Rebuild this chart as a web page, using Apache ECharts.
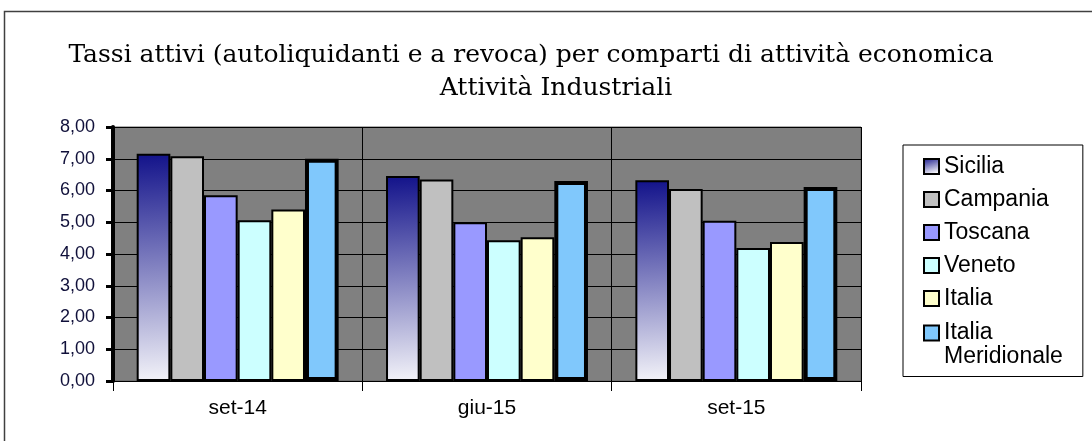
<!DOCTYPE html>
<html>
<head>
    <meta charset="utf-8">
    <title>Tassi attivi</title>
    <script src="https://cdn.jsdelivr.net/npm/echarts@6/dist/echarts.min.js"></script>
    <style>
        html, body { margin: 0; padding: 0; background: #fff; }
    </style>
</head>
<body>
    <div id="main" style="width: 1092px;height:441px;"></div>
    <script type="text/javascript">
        // dati
        var periodi = ['set-14', 'giu-15', 'set-15'];
        var sicilia = [7.16, 6.46, 6.32];
        var campania = [7.08, 6.35, 6.05];
        var toscana = [5.85, 5.00, 5.05];
        var veneto = [5.06, 4.43, 4.19];
        var italia = [5.40, 4.53, 4.38];
        var italiaMeridionale = [7.00, 6.30, 6.11];
        var yTicks = [0, 1, 2, 3, 4, 5, 6, 7, 8];

        var myChart = echarts.init(document.getElementById('main'));

        function barSeries(name, data, color, bw) {
            return {
                name: name,
                type: 'bar',
                data: data,
                barGap: '0%',
                barCategoryGap: '19%',
                itemStyle: {
                    color: color,
                    borderColor: '#000',
                    borderWidth: bw
                }
            };
        }

        var siciliaColor = new echarts.graphic.LinearGradient(0, 0, 0.3, 1, [
            { offset: 0, color: '#12128a' },
            { offset: 1, color: '#f2f2f8' }
        ]);

        var titleFont = {
            fontFamily: 'DejaVu Serif',
            fontWeight: 'normal',
            fontSize: 25,
            color: '#000'
        };
        var legendFont = {
            fontFamily: 'Liberation Sans',
            fontSize: 23,
            lineHeight: 24,
            color: '#000'
        };

        var option = {
            animation: false,
            title: [{
                text: 'Tassi attivi (autoliquidanti e a revoca) per comparti di attività economica',
                left: 526,
                top: 38,
                textAlign: 'center',
                textStyle: titleFont
            }, {
                text: 'Attività Industriali',
                left: 551,
                top: 71,
                textAlign: 'center',
                textStyle: titleFont
            }],
            legend: [{
                // riquadro della legenda con le prime cinque voci
                data: ['Sicilia', 'Campania', 'Toscana', 'Veneto', 'Italia'],
                orient: 'vertical',
                left: 903,
                top: 145,
                padding: [9.5, 34, 66, 20],
                itemGap: 9,
                itemWidth: 15,
                itemHeight: 15,
                borderColor: '#000',
                borderWidth: 1,
                icon: 'rect',
                textStyle: legendFont
            }, {
                // ultima voce su due righe, icona allineata alla prima riga
                data: ['Italia Meridionale'],
                orient: 'vertical',
                left: 923,
                top: 321.5,
                padding: 0,
                itemWidth: 15,
                itemHeight: 15,
                icon: 'rect',
                textStyle: {
                    fontFamily: 'Liberation Sans',
                    fontSize: 23,
                    color: '#000',
                    rich: {
                        a: { fontFamily: 'Liberation Sans', fontSize: 23, lineHeight: 48, color: '#000' },
                        b: { fontFamily: 'Liberation Sans', fontSize: 23, lineHeight: 0, color: '#000' }
                    }
                },
                formatter: function () {
                    return '{a|Italia}\n{b|Meridionale}';
                }
            }],
            grid: {
                left: 113,
                right: 231,
                top: 127,
                bottom: 60,
                show: true,
                backgroundColor: '#808080',
                borderColor: '#606060',
                borderWidth: 1
            },
            xAxis: {
                type: 'category',
                data: periodi,
                axisLine: { lineStyle: { color: '#000', width: 1 } },
                axisTick: { show: true, length: 10, lineStyle: { color: '#000', width: 1 } },
                axisLabel: {
                    fontFamily: 'Liberation Sans',
                    fontSize: 21,
                    color: '#000',
                    margin: 17
                },
                splitLine: { show: true, lineStyle: { color: '#000', width: 1 } }
            },
            yAxis: {
                type: 'value',
                min: yTicks[0],
                max: yTicks[yTicks.length - 1],
                interval: 1,
                axisLine: { show: true, lineStyle: { color: '#000', width: 4 } },
                axisTick: { show: true, length: 7, lineStyle: { color: '#000', width: 3 } },
                axisLabel: {
                    fontFamily: 'Liberation Sans',
                    fontSize: 18,
                    color: '#10103a',
                    margin: 18,
                    formatter: function (v) { return v.toFixed(2).replace('.', ','); }
                },
                splitLine: { show: true, lineStyle: { color: '#000', width: 1 } }
            },
            series: [
                barSeries('Sicilia', sicilia, siciliaColor, 2),
                barSeries('Campania', campania, '#c0c0c0', 2),
                barSeries('Toscana', toscana, '#9999ff', 2),
                barSeries('Veneto', veneto, '#ccffff', 2),
                barSeries('Italia', italia, '#ffffcc', 2),
                barSeries('Italia Meridionale', italiaMeridionale, '#80c8fc', 4)
            ],
            graphic: [{
                type: 'rect',
                shape: { x: 4.5, y: 11.5, width: 1100, height: 440 },
                style: { fill: null, stroke: '#404040', lineWidth: 1.5 },
                silent: true
            }]
        };

        myChart.setOption(option);
    </script>
</body>
</html>
